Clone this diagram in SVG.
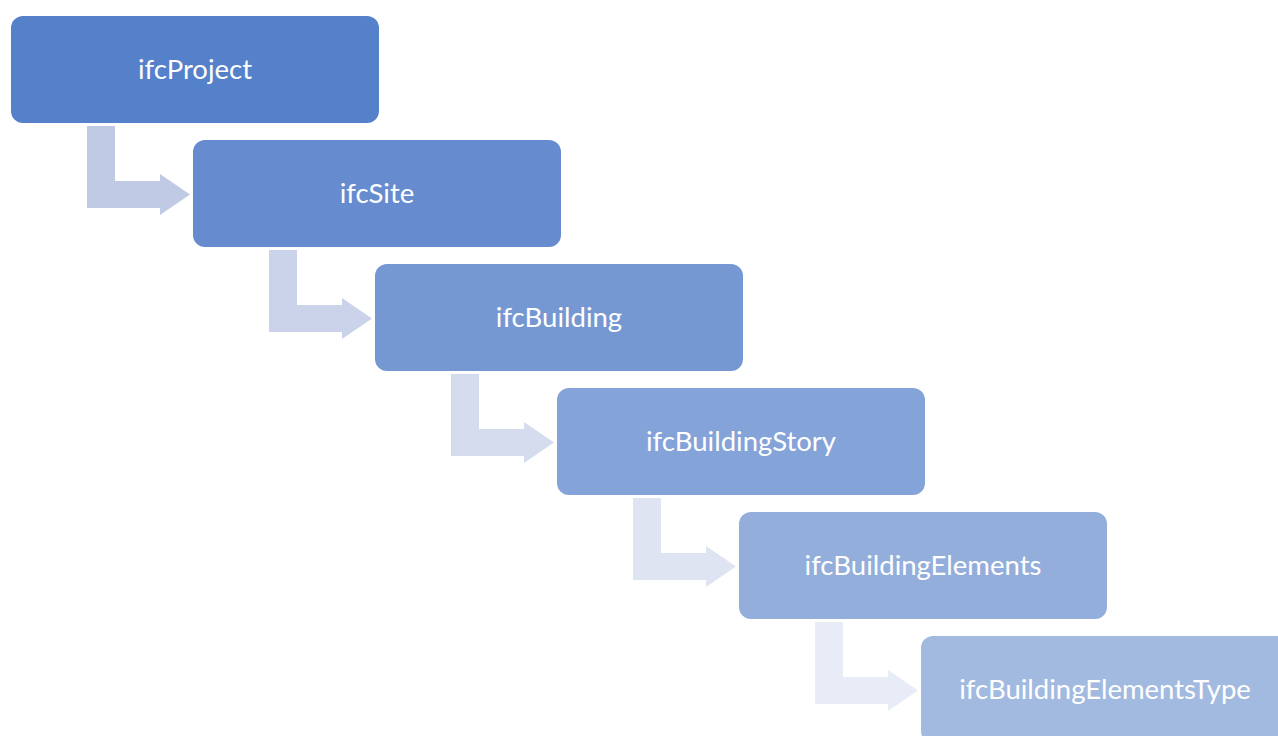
<svg xmlns="http://www.w3.org/2000/svg" width="1278" height="736" viewBox="0 0 1278 736">
<style>
.n rect{width:368px;height:107px}
.n text{font-family:Lato,"Liberation Sans",sans-serif;font-size:27.5px;fill:#ffffff;text-anchor:middle}
</style>
<defs>
<polygon id="arr" points="87,126 115,126 115,181 160,181 160,174 190,194.5 160,215 160,208 87,208"/>
</defs>
<rect width="1278" height="736" fill="#ffffff"/>
<g id="connectors">
<use href="#arr" fill="#C0CAE5"/>
<use href="#arr" transform="translate(182,124)" fill="#CBD3EA"/>
<use href="#arr" transform="translate(364,248)" fill="#D5DCEE"/>
<use href="#arr" transform="translate(546,372)" fill="#DFE4F2"/>
<use href="#arr" transform="translate(728,496)" fill="#E8ECF6"/>
</g>
<g id="n1" class="n"><rect x="11" y="16" width="368" height="107" rx="12" fill="#5580CA"/><text x="195" y="79">ifcProject</text></g>
<g id="n2" class="n"><rect x="193" y="140" width="368" height="107" rx="12" fill="#668BCE"/><text x="377" y="203">ifcSite</text></g>
<g id="n3" class="n"><rect x="375" y="264" width="368" height="107" rx="12" fill="#7598D3"/><text x="559" y="327">ifcBuilding</text></g>
<g id="n4" class="n"><rect x="557" y="388" width="368" height="107" rx="12" fill="#84A3D8"/><text x="741" y="451">ifcBuildingStory</text></g>
<g id="n5" class="n"><rect x="739" y="512" width="368" height="107" rx="12" fill="#94AEDC"/><text x="923" y="575">ifcBuildingElements</text></g>
<g id="n6" class="n"><rect x="921" y="636" width="368" height="107" rx="12" fill="#A3BAE0"/><text x="1105" y="699">ifcBuildingElementsType</text></g>
</svg>
